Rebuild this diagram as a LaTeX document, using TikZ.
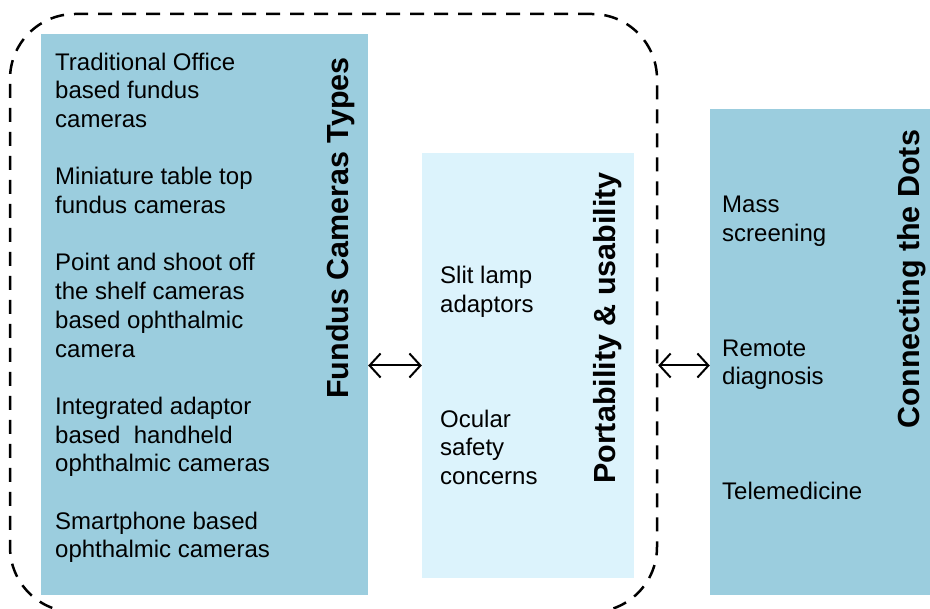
\documentclass[tikz,border=0pt]{standalone}
\usepackage{fontspec}
\setmainfont{Liberation Sans}
\usetikzlibrary{arrows.meta}
\definecolor{boxblue}{RGB}{155,205,222}
\definecolor{boxpale}{RGB}{220,243,252}
\newcommand{\itemgap}{28.7pt}
\newcommand{\widegap}{86.1pt}
\tikzset{
  panel/.style={draw=none, inner sep=0pt},
  items/.style={inner sep=0pt, align=left, anchor=north west,
    font=\fontsize{24}{28.7}\selectfont},
  paneltitle/.style={inner sep=0pt, rotate=90,
    font=\fontsize{30.5}{36}\selectfont\bfseries},
  frame/.style={draw, line width=2.5pt, dash pattern=on 14pt off 10pt,
    rounded corners=65pt, inner sep=0pt},
  link/.style={line width=2pt, {Straight Barb[length=11pt,width=24pt]}-{Straight Barb[length=11pt,width=24pt]}}
}
\begin{document}
\begin{tikzpicture}[x=1pt, y=-1pt]
  \useasboundingbox (0,0) rectangle (930,609);
  % panels
  \node[panel, fill=boxblue, minimum width=327pt, minimum height=561pt] (types) at (204.5,314.5) {};
  \node[panel, fill=boxpale, minimum width=212pt, minimum height=425pt] (pu) at (528,365.5) {};
  \node[panel, fill=boxblue, minimum width=220pt, minimum height=486pt] (ctd) at (820,352) {};
  \node[frame, minimum width=647pt, minimum height=598pt] (frame) at (333.5,313) {};
  % texts
  \node[items] (typeslist) at (55,52.5) {Traditional Office\\based fundus\\cameras\\[\itemgap]
    Miniature table top\\fundus cameras\\[\itemgap]
    Point and shoot off\\the shelf cameras\\based ophthalmic\\camera\\[\itemgap]
    Integrated adaptor\\based\ \ handheld\\ophthalmic cameras\\[\itemgap]
    Smartphone based\\ophthalmic cameras};
  \node[paneltitle] (typestitle) at (341,228) {Fundus Cameras Types};
  \node[items] (pulist) at (440,266) {Slit lamp\\adaptors\\[\widegap]
    Ocular\\safety\\concerns};
  \node[paneltitle] (putitle) at (608,328) {Portability \& usability};
  \node[items] (ctdlist) at (722,196) {Mass\\screening\\[\widegap]
    Remote\\diagnosis\\[\widegap]
    Telemedicine};
  \node[paneltitle] (ctdtitle) at (912,279) {Connecting the Dots};
  % arrows
  \draw[link] (types.east |- pu.west) -- (pu.west);
  \draw[link] (frame.east |- pu.east) -- (ctd.west |- pu.east);
\end{tikzpicture}
\end{document}
